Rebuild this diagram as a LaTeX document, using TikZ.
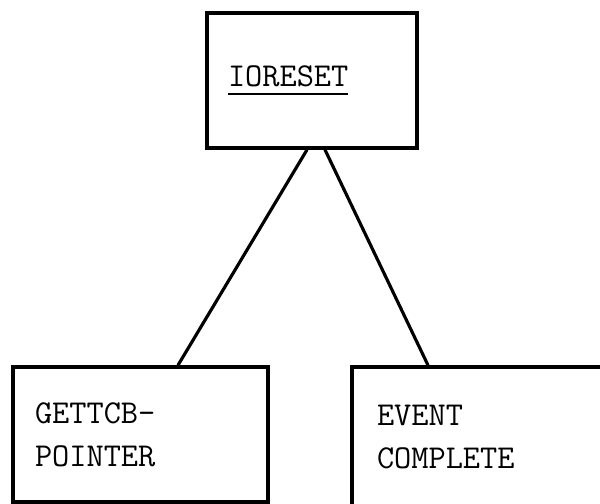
\documentclass[tikz,border=0pt]{standalone}
\usepackage{tikz}
\usetikzlibrary{positioning, calc}

% underlined routine name with a heavy rule
\newlength\ulwd
\newcommand\ulname[1]{\settowidth\ulwd{#1}\rlap{\rule[-0.165cm]{\ulwd}{0.05cm}}#1}

\tikzset{
  chartbox/.style={draw, line width=2pt, minimum height=2.7cm, align=left,
    font=\fontsize{19}{24.5}\selectfont\ttfamily},
  link/.style={line width=1.8pt},
}

\begin{document}
\begin{tikzpicture}
    \clip (0,0) rectangle (12,10.08);

    % calling routine on top
    \node[chartbox, inner xsep=0.42cm, text width=3.36cm] (ioreset) at (6.24,8.47)
      {\ulname{IORESET}};

    % called routines
    \node[chartbox, inner xsep=0.44cm, text width=4.22cm] (gettcb) at (2.81,1.39)
      {GETTCB-\\POINTER};
    \node[chartbox, inner xsep=0.5cm, text width=4.1cm, minimum height=2.8cm]
      (event) at (9.59,1.34) {EVENT\\COMPLETE};

    \draw[link] ($(ioreset.south)+(-0.1,0)$) -- ($(gettcb.north)+(0.75,0)$);
    \draw[link] ($(ioreset.south)+(0.26,0)$) -- ($(event.north)+(-1.03,0)$);
  \end{tikzpicture}
\end{document}
